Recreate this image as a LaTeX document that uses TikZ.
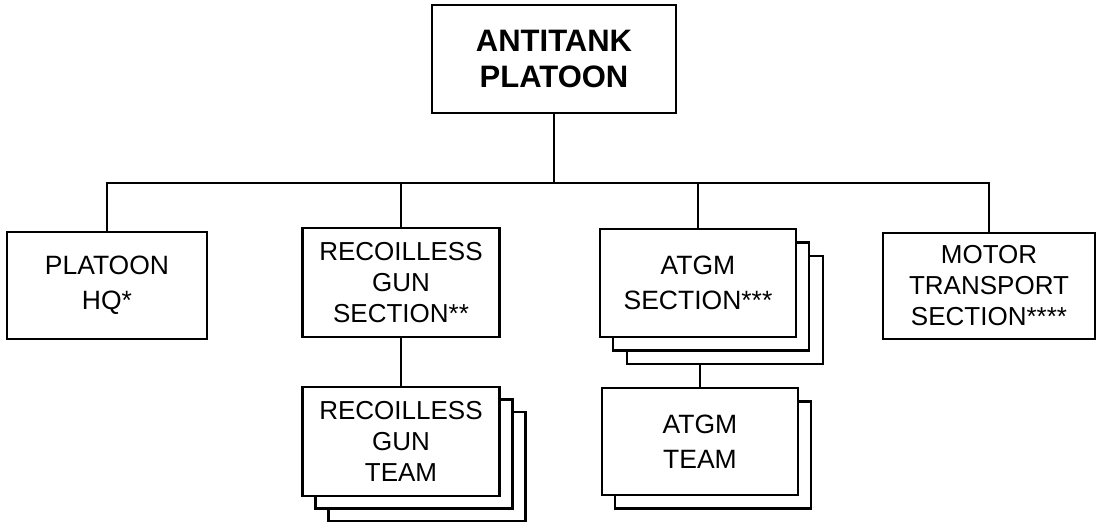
\documentclass[tikz,border=0pt]{standalone}
\usepackage{fontspec}
\setmainfont{Liberation Sans}
\begin{document}
\begin{tikzpicture}[x=1pt,y=-1pt,
  box/.style={draw, line width=2.2pt, fill=white, inner sep=0pt, align=center,
    font=\fontsize{26.5}{35}\selectfont},
  box3/.style={box, font=\fontsize{26}{31}\selectfont},
  topbox/.style={box, font=\fontsize{31}{36}\bfseries\selectfont},
  conn/.style={line width=2pt}]
\useasboundingbox (0,0) rectangle (1097,523);
\coordinate (bar) at (0,183);
% stacked shadows (back to front)
\node[box, minimum width=197pt, minimum height=109pt] (rgt3) at (427,466.5) {};
\node[box, minimum width=197pt, minimum height=109pt] (rgt2) at (414,454) {};
\node[box, minimum width=196pt, minimum height=108pt] (atgms3) at (725,310) {};
\node[box, minimum width=196pt, minimum height=108pt] (atgms2) at (711,296.5) {};
\node[box, minimum width=196pt, minimum height=107pt] (atgmt2) at (713,455) {};
% main boxes
\node[topbox, minimum width=244pt, minimum height=108pt] (top) at (554,59) {ANTITANK\\PLATOON};
\node[box, minimum width=200pt, minimum height=107pt] (hq) at (107,285.5) {PLATOON\\HQ*};
\node[box3, minimum width=197pt, minimum height=109pt] (rgs) at (401,282.5) {RECOILLESS\\GUN\\SECTION**};
\node[box3, minimum width=197pt, minimum height=109pt] (rgt) at (401,441.5) {RECOILLESS\\GUN\\TEAM};
\node[box, minimum width=196pt, minimum height=108pt] (atgms) at (698,283) {ATGM\\SECTION***};
\node[box, minimum width=196pt, minimum height=107pt] (atgmt) at (700,441.5) {ATGM\\TEAM};
\node[box3, minimum width=212pt, minimum height=106pt] (motor) at (989,286) {MOTOR\\TRANSPORT\\SECTION****};
% connectors
\draw[conn] (top.south) -- (top.south |- bar);
\draw[conn] (hq.north) -- (hq.north |- bar) -- (motor.north |- bar) -- (motor.north);
\draw[conn] (rgs.north) -- (rgs.north |- bar);
\draw[conn] (atgms.north) -- (atgms.north |- bar);
\draw[conn] (rgs.south) -- (rgt.north);
\draw[conn] (atgmt.north |- atgms3.south) -- (atgmt.north);
\end{tikzpicture}
\end{document}
